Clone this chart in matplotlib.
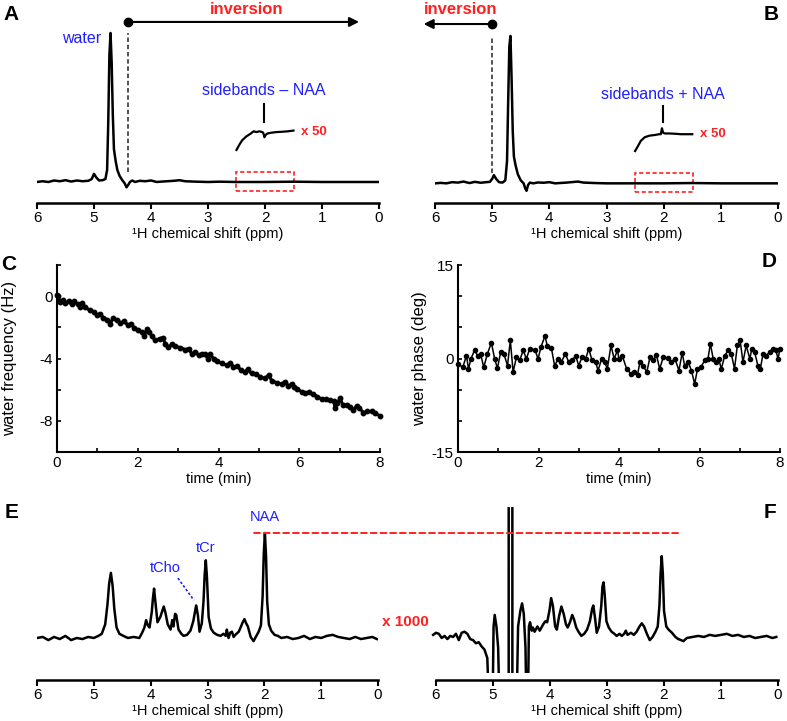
import numpy as np
import matplotlib
matplotlib.use("Agg")
import matplotlib.pyplot as plt
from matplotlib.patches import Rectangle, ConnectionPatch
from matplotlib.transforms import Bbox, TransformedBbox

plt.rcParams['font.family'] = ['Liberation Sans', 'DejaVu Sans']

BLUE = '#1f1fff'
RED = '#ff2020'

# ---------------- data ----------------
A_ppm = [6.00, 5.90, 5.80, 5.70, 5.60, 5.50, 5.40, 5.30, 5.20, 5.10, 5.04, 5.00, 4.96, 4.91, 4.85,
         4.80, 4.77, 4.75, 4.73, 4.71, 4.69, 4.67, 4.65, 4.62, 4.59, 4.55, 4.50, 4.46, 4.43, 4.40,
         4.37, 4.33, 4.28, 4.20, 4.10, 4.00, 3.90, 3.80, 3.60, 3.50, 3.40, 3.20, 3.00, 2.80, 2.50,
         2.00, 1.50, 1.00, 0.50, 0.00]
A_amp = [0.0, 0.005, 0.0, 0.01, 0.005, 0.012, 0.003, 0.010, 0.005, 0.008, 0.02, 0.055, 0.03, 0.01, 0.012,
         0.02, 0.08, 0.40, 0.85, 1.0, 0.80, 0.45, 0.22, 0.14, 0.08, 0.04, 0.01, -0.01, -0.036, -0.02,
         0.0, 0.01, 0.0, 0.008, 0.005, 0.01, 0.0, 0.003, 0.008, 0.012, 0.005, 0.002, 0.0, 0.002, 0.0,
         0.0, 0.002, 0.0, 0.0, 0.0]

B_ppm = [6.00, 5.90, 5.80, 5.70, 5.60, 5.50, 5.40, 5.30, 5.20, 5.10, 5.04, 5.00, 4.97, 4.93, 4.88,
         4.82, 4.77, 4.74, 4.72, 4.70, 4.68, 4.66, 4.64, 4.62, 4.59, 4.55, 4.50, 4.45, 4.42, 4.40,
         4.37, 4.34, 4.28, 4.20, 4.10, 4.00, 3.90, 3.70, 3.50, 3.40, 3.20, 3.00, 2.50, 2.00, 1.50,
         1.00, 0.50, 0.00]
B_amp = [0.0, 0.003, 0.0, 0.008, 0.005, 0.012, 0.002, 0.010, 0.004, 0.008, 0.01, 0.03, 0.055, 0.03, 0.008,
         0.005, 0.02, 0.15, 0.55, 0.92, 0.99, 0.70, 0.35, 0.18, 0.12, 0.06, 0.02, 0.0, -0.035, -0.05,
         -0.01, 0.005, 0.0, 0.006, 0.004, 0.008, 0.0, 0.005, 0.012, 0.005, 0.002, 0.0, 0.0, 0.0, 0.002,
         0.0, 0.0, 0.0]

# x50 insets (2.5-1.5 ppm region)
A_inset_ppm = [2.50, 2.45, 2.40, 2.33, 2.25, 2.20, 2.15, 2.10, 2.05, 2.03, 2.01, 1.99, 1.96, 1.90,
               1.80, 1.70, 1.60, 1.50]
A_inset_amp = [-0.125, -0.09, -0.06, -0.035, -0.015, 0.0, -0.005, 0.0, -0.005, -0.01, -0.04, -0.025,
               -0.015, -0.01, -0.005, -0.003, 0.0, 0.005]
B_inset_ppm = [2.50, 2.45, 2.40, 2.33, 2.25, 2.15, 2.08, 2.05, 2.03, 2.01, 1.98, 1.90, 1.80, 1.70,
               1.60, 1.50]
B_inset_amp = [-0.113, -0.08, -0.045, -0.02, -0.01, -0.005, 0.0, 0.0, 0.04, 0.01, 0.005, 0.005,
               0.003, 0.0, 0.0, 0.0]

C_time = [0.00, 0.02, 0.08, 0.15, 0.21, 0.29, 0.37, 0.43, 0.51, 0.56, 0.62, 0.70, 0.81, 0.91, 0.99,
          1.06, 1.15, 1.25, 1.32, 1.39, 1.48, 1.57, 1.67, 1.75, 1.83, 1.91, 2.00, 2.10, 2.16, 2.23,
          2.29, 2.35, 2.43, 2.54, 2.62, 2.68, 2.76, 2.85, 2.93, 3.05, 3.18, 3.26, 3.34, 3.42, 3.51,
          3.59, 3.67, 3.73, 3.78, 3.88, 3.96, 4.08, 4.21, 4.29, 4.37, 4.47, 4.55, 4.66, 4.72, 4.82,
          4.93, 5.03, 5.15, 5.24, 5.32, 5.44, 5.57, 5.65, 5.73, 5.81, 5.87, 5.95, 6.06, 6.14, 6.25,
          6.35, 6.45, 6.56, 6.66, 6.76, 6.85, 6.89, 6.94, 7.01, 7.08, 7.18, 7.26, 7.34, 7.42, 7.49,
          7.59, 7.67, 7.79, 7.88, 8.00]
C_freq = [0.05, 0.04, -0.38, -0.23, -0.45, -0.32, -0.53, -0.34, -0.53, -0.70, -0.45, -0.70, -0.91, -1.02, -1.23,
          -1.13, -1.38, -1.51, -1.77, -1.38, -1.55, -1.72, -1.60, -1.87, -1.77, -2.02, -2.15, -2.32, -2.57, -2.09,
          -2.30, -2.57, -2.83, -2.72, -2.66, -3.04, -3.26, -3.09, -3.21, -3.30, -3.43, -3.36, -3.72, -3.57, -3.79,
          -3.68, -3.72, -4.00, -3.72, -4.00, -4.17, -4.32, -4.43, -4.28, -4.53, -4.49, -4.74, -4.85, -4.70, -4.96,
          -5.00, -5.17, -5.28, -5.06, -5.43, -5.55, -5.64, -5.49, -5.77, -5.64, -5.81, -5.98, -6.13, -6.23, -6.17,
          -6.28, -6.45, -6.62, -6.62, -6.66, -6.70, -7.19, -6.87, -6.55, -6.98, -6.98, -7.13, -7.30, -7.04, -7.19,
          -7.47, -7.40, -7.40, -7.51, -7.68]

D_time = [0.00, 0.12, 0.21, 0.26, 0.32, 0.41, 0.49, 0.56, 0.64, 0.73, 0.83, 0.91, 0.98, 1.06, 1.14,
          1.23, 1.30, 1.37, 1.45, 1.53, 1.62, 1.70, 1.78, 1.91, 1.99, 2.06, 2.16, 2.22, 2.32, 2.40,
          2.49, 2.57, 2.67, 2.75, 2.84, 2.92, 3.00, 3.08, 3.17, 3.25, 3.33, 3.42, 3.48, 3.57, 3.65,
          3.71, 3.80, 3.88, 3.96, 4.00, 4.08, 4.19, 4.30, 4.38, 4.46, 4.52, 4.60, 4.69, 4.77, 4.85,
          4.93, 5.01, 5.10, 5.22, 5.30, 5.39, 5.49, 5.57, 5.63, 5.72, 5.80, 5.88, 5.95, 6.03, 6.13,
          6.21, 6.27, 6.34, 6.42, 6.48, 6.54, 6.63, 6.71, 6.79, 6.87, 6.94, 7.01, 7.08, 7.16, 7.25,
          7.30, 7.37, 7.45, 7.51, 7.58, 7.66, 7.74, 7.82, 7.90, 7.95, 8.00]
D_phase = [-0.86, -1.40, 0.48, -1.67, -0.05, 1.29, 0.48, 0.75, -1.40, 0.75, 2.53, -0.05, -1.56, 1.02, 0.75,
           -1.13, 2.90, -2.20, 0.21, -0.32, 1.29, -0.05, 1.56, 1.40, -0.05, 1.83, 3.60, 2.00, 1.67, -1.13,
           -0.05, -0.50, 0.75, -0.59, -0.32, 0.48, -1.13, 0.21, -0.05, 1.56, -0.32, -0.59, -1.93, -0.05, -0.59,
           -1.67, 2.10, -0.05, 1.29, -0.05, 0.48, -1.67, -2.47, -2.20, -2.60, -0.59, -1.13, -2.20, 0.21, -0.32,
           0.59, -1.67, 0.21, 0.05, -0.50, -0.05, -1.93, 0.91, -1.13, -0.59, -1.93, -4.09, -1.67, -1.40, -0.32,
           -0.05, 2.37, -0.05, -0.59, -0.05, -1.67, 0.48, 1.29, 0.75, -1.67, 2.10, 2.90, -0.59, 2.10, -0.05,
           1.56, 1.02, -1.13, -1.67, 0.75, 0.48, 1.02, 1.56, 1.29, -0.05, 1.56]

E_ppm = [6.00, 5.90, 5.80, 5.70, 5.60, 5.50, 5.40, 5.30, 5.20, 5.10, 5.00, 4.92, 4.86, 4.80, 4.76,
         4.73, 4.70, 4.67, 4.64, 4.60, 4.55, 4.48, 4.40, 4.30, 4.20, 4.15, 4.11, 4.08, 4.05, 4.02,
         3.98, 3.96, 3.94, 3.92, 3.88, 3.83, 3.80, 3.77, 3.74, 3.70, 3.65, 3.62, 3.60, 3.57, 3.55,
         3.51, 3.46, 3.42, 3.36, 3.30, 3.25, 3.22, 3.20, 3.17, 3.14, 3.10, 3.07, 3.05, 3.03, 3.01,
         2.98, 2.94, 2.89, 2.83, 2.77, 2.72, 2.68, 2.66, 2.63, 2.60, 2.57, 2.54, 2.51, 2.45, 2.41,
         2.38, 2.35, 2.32, 2.29, 2.24, 2.19, 2.14, 2.10, 2.06, 2.03, 2.01, 1.99, 1.97, 1.95, 1.92,
         1.88, 1.82, 1.76, 1.70, 1.60, 1.50, 1.40, 1.30, 1.20, 1.10, 1.00, 0.90, 0.80, 0.70, 0.60,
         0.50, 0.40, 0.30, 0.20, 0.10, 0.02]
E_amp = [0.00, 0.01, -0.02, 0.01, -0.01, 0.02, -0.02, 0.00, -0.01, 0.01, 0.00, 0.02, 0.04, 0.13, 0.32,
         0.52, 0.62, 0.50, 0.28, 0.10, 0.04, 0.02, 0.00, 0.01, 0.00, 0.05, 0.10, 0.17, 0.12, 0.10,
         0.25, 0.38, 0.47, 0.36, 0.15, 0.20, 0.25, 0.30, 0.24, 0.13, 0.08, 0.17, 0.11, 0.23, 0.22,
         0.08, 0.04, 0.02, 0.03, 0.07, 0.16, 0.25, 0.31, 0.22, 0.06, 0.14, 0.35, 0.60, 0.74, 0.58,
         0.20, 0.09, 0.05, 0.03, 0.02, 0.04, 0.02, 0.08, 0.00, 0.05, 0.06, 0.01, 0.03, 0.06, 0.11,
         0.15, 0.18, 0.14, 0.11, 0.01, -0.03, 0.02, 0.06, 0.12, 0.40, 0.80, 1.00, 0.78, 0.35, 0.13,
         0.07, 0.03, 0.02, 0.00, 0.01, -0.01, 0.00, 0.02, -0.01, 0.01, 0.00, 0.02, 0.03, 0.01, 0.00,
         -0.01, 0.01, -0.01, 0.00, 0.01, -0.01]

F_ppm = [6.05, 6.00, 5.95, 5.90, 5.85, 5.80, 5.75, 5.70, 5.65, 5.60, 5.55, 5.50, 5.45, 5.40, 5.35,
         5.30, 5.25, 5.20, 5.15, 5.10, 5.06, 5.04, 5.01, 4.99, 4.97, 4.94, 4.91, 4.88, 4.74, 4.725,
         4.72, 4.665, 4.66, 4.59, 4.56, 4.52, 4.49, 4.46, 4.43, 4.41, 4.39, 4.37, 4.35, 4.32, 4.30,
         4.27, 4.22, 4.18, 4.12, 4.08, 4.05, 4.01, 3.98, 3.95, 3.91, 3.88, 3.84, 3.80, 3.76, 3.72,
         3.69, 3.65, 3.61, 3.58, 3.54, 3.50, 3.45, 3.40, 3.35, 3.30, 3.26, 3.24, 3.21, 3.18, 3.14,
         3.10, 3.08, 3.06, 3.04, 3.01, 2.97, 2.92, 2.87, 2.83, 2.78, 2.74, 2.70, 2.67, 2.64, 2.58,
         2.53, 2.48, 2.43, 2.39, 2.35, 2.30, 2.25, 2.20, 2.15, 2.11, 2.08, 2.06, 2.04, 2.02, 2.00,
         1.96, 1.92, 1.86, 1.80, 1.75, 1.70, 1.66, 1.60, 1.50, 1.40, 1.30, 1.20, 1.10, 1.00, 0.90,
         0.80, 0.70, 0.60, 0.50, 0.40, 0.30, 0.20, 0.10, 0.03]
F_amp = [0.02, 0.04, 0.03, -0.01, 0.01, -0.02, 0.01, 0.00, 0.03, -0.03, 0.04, 0.05, 0.03, -0.02, -0.03,
         -0.06, -0.05, -0.09, -0.12, -0.20, -0.80, -0.80, -0.80, 0.10, 0.21, 0.10, -0.10, -0.80, -0.80, -0.80,
         20.0, 20.0, -0.80, -0.80, 0.10, 0.25, 0.32, 0.22, -0.10, -0.80, -0.80, 0.10, 0.14, 0.06, 0.09,
         0.05, 0.10, 0.06, 0.12, 0.15, 0.14, 0.25, 0.37, 0.30, 0.10, 0.07, 0.20, 0.29, 0.22, 0.12,
         0.09, 0.14, 0.21, 0.17, 0.09, 0.05, 0.01, 0.03, 0.07, 0.15, 0.27, 0.30, 0.18, 0.04, 0.10,
         0.30, 0.48, 0.52, 0.40, 0.15, 0.09, 0.05, 0.03, 0.01, 0.03, 0.01, 0.03, 0.06, 0.02, 0.04,
         0.02, 0.05, 0.10, 0.13, 0.10, 0.03, -0.03, 0.00, 0.05, 0.10, 0.30, 0.60, 0.77, 0.60, 0.25,
         0.10, 0.07, 0.04, 0.00, -0.02, -0.03, -0.04, -0.01, 0.00, 0.01, 0.00, 0.02, 0.01, 0.02, 0.03,
         0.01, 0.02, 0.00, 0.01, -0.01, 0.00, 0.01, -0.01, 0.00]

ppm_ticks = [6, 5, 4, 3, 2, 1, 0]
time_ticks = [0, 1, 2, 3, 4, 5, 6, 7, 8]
C_yticks = [-10, -8, -6, -4, -2, 0, 2]
C_ylabels = ['', '-8', '', '-4', '', '0', '']
D_yticks = [-15, -10, -5, 0, 5, 10, 15]
D_ylabels = ['-15', '', '', '0', '', '', '15']

# ---------------- figure ----------------
W, H = 787, 721
fig = plt.figure(figsize=(W / 100, H / 100), dpi=100)


def px_axes(x0, x1, ytop, ybot):
    return fig.add_axes([x0 / W, 1 - ybot / H, (x1 - x0) / W, (ybot - ytop) / H])


def spectrum_axes(ax):
    ax.set_xlim(6, 0)
    for s in ['left', 'right', 'top']:
        ax.spines[s].set_visible(False)
    ax.spines['bottom'].set_linewidth(1.8)
    ax.set_yticks([])
    ax.set_xticks(ppm_ticks)
    ax.tick_params(axis='x', direction='out', length=4, width=1.5, labelsize=11, pad=2)
    ax.set_xlabel('¹H chemical shift (ppm)', fontsize=10.5, labelpad=1)


def time_axes(ax):
    ax.set_xlim(0, 8)
    for s in ['right', 'top']:
        ax.spines[s].set_visible(False)
    for s in ['left', 'bottom']:
        ax.spines[s].set_linewidth(1.5)
    ax.set_xticks(time_ticks)
    ax.set_xticklabels([str(t) if t % 2 == 0 else '' for t in time_ticks])
    ax.tick_params(direction='in', length=3, width=1.2, labelsize=11, pad=3)
    ax.set_xlabel('time (min)', fontsize=10.5, labelpad=1)


# ---- A ----
axA = px_axes(37, 379, 20, 203)
spectrum_axes(axA)
axA.set_ylim(-0.141, 1.087)
axA.plot(A_ppm, A_amp, color='black', lw=1.8)
axA.plot(A_inset_ppm, np.array(A_inset_amp) + 0.34, color='black', lw=1.6)
axA.add_patch(Rectangle((2.51, -0.06), -1.02, 0.127, fill=False, ec=RED, lw=1.2, ls=(0, (2.5, 1.5))))
axA.plot([4.40, 4.40], [0.07, 1.0], color='#444444', lw=1.3, ls=(0, (2.5, 1.5)))
axA.plot([2.02, 2.02], [0.403, 0.523], color='black', lw=1.5)
axA.annotate('', xy=(0.35, 1.074), xytext=(4.40, 1.074), annotation_clip=False,
             arrowprops=dict(arrowstyle='-|>', color='black', lw=1.5, mutation_scale=14, shrinkA=0, shrinkB=0))
axA.plot([4.40], [1.074], 'o', color='black', ms=6, clip_on=False)
axA.text(2.32, 1.155, 'inversion', color=RED, fontsize=12, fontweight='bold', ha='center', va='center', clip_on=False)
axA.text(5.21, 0.96, 'water', color=BLUE, fontsize=11.5, ha='center', va='center')
axA.text(2.02, 0.615, 'sidebands – NAA', color=BLUE, fontsize=11.5, ha='center', va='center')
axA.text(1.36, 0.335, 'x 50', color=RED, fontsize=9.5, fontweight='bold', ha='left', va='center')

# ---- B ----
axB = px_axes(435, 778, 20, 203)
spectrum_axes(axB)
axB.set_ylim(-0.132, 1.097)
axB.plot(B_ppm, B_amp, color='black', lw=1.8)
axB.plot(B_inset_ppm, np.array(B_inset_amp) + 0.33, color='black', lw=1.6)
axB.add_patch(Rectangle((2.51, -0.06), -1.02, 0.127, fill=False, ec=RED, lw=1.2, ls=(0, (2.5, 1.5))))
axB.plot([5.01, 5.01], [0.07, 0.98], color='#444444', lw=1.3, ls=(0, (2.5, 1.5)))
axB.plot([2.02, 2.02], [0.41, 0.52], color='black', lw=1.5)
axB.annotate('', xy=(6.2, 1.07), xytext=(5.01, 1.07), annotation_clip=False,
             arrowprops=dict(arrowstyle='-|>', color='black', lw=1.5, mutation_scale=14, shrinkA=0, shrinkB=0))
axB.plot([5.01], [1.07], 'o', color='black', ms=6, clip_on=False)
axB.text(5.56, 1.165, 'inversion', color=RED, fontsize=12, fontweight='bold', ha='center', va='center', clip_on=False)
axB.text(2.02, 0.60, 'sidebands + NAA', color=BLUE, fontsize=11.5, ha='center', va='center')
axB.text(1.36, 0.33, 'x 50', color=RED, fontsize=9.5, fontweight='bold', ha='left', va='center')

# ---- C ----
axC = px_axes(57, 380, 265, 452)
time_axes(axC)
axC.set_ylim(-10, 2)
axC.set_yticks(C_yticks)
axC.set_yticklabels(C_ylabels)
axC.plot(C_time, C_freq, color='black', lw=2.2, marker='o', ms=3.2, clip_on=False)
axC.set_ylabel('water frequency (Hz)', fontsize=12)
axC.yaxis.set_label_coords(-0.125, 0.5)

# ---- D ----
axD = px_axes(458, 780, 265, 452)
time_axes(axD)
axD.set_ylim(-15, 15)
axD.set_yticks(D_yticks)
axD.set_yticklabels(D_ylabels)
axD.plot(D_time, D_phase, color='black', lw=1.1, marker='o', ms=3.0, clip_on=False)
axD.set_ylabel('water phase (deg)', fontsize=12)
axD.yaxis.set_label_coords(-0.095, 0.5)

# ---- E ----
axE = px_axes(37, 378, 500, 680)
spectrum_axes(axE)
axE.set_ylim(-0.40, 1.314)
axE.plot(E_ppm, E_amp, color='black', lw=1.8)
axE.text(3.75, 0.67, 'tCho', color=BLUE, fontsize=10.5, ha='center', va='center')
axE.plot([3.52, 3.24], [0.57, 0.36], color=BLUE, lw=1.2, ls=(0, (1.5, 1.2)))
axE.text(3.04, 0.86, 'tCr', color=BLUE, fontsize=10.5, ha='center', va='center')
axE.text(2.0, 1.15, 'NAA', color=BLUE, fontsize=10.5, ha='center', va='center')

# ---- F ----
axF = px_axes(436, 778, 500, 680)
spectrum_axes(axF)
axF.set_ylim(-0.41, 1.305)
lineF, = axF.plot(F_ppm, F_amp, color='black', lw=1.8)
lineF.set_clip_box(TransformedBbox(Bbox([[6.2, -0.343], [-0.2, 1.238]]), axF.transData))
axF.text(6.54, 0.14, 'x 1000', color=RED, fontsize=11, fontweight='bold', ha='center', va='center', clip_on=False)

fig.add_artist(ConnectionPatch(xyA=(2.18, 1.0), coordsA=axE.transData,
                               xyB=(1.75, 0.99), coordsB=axF.transData,
                               color=RED, lw=1.4, ls=(0, (3, 2))))

# ---- panel letters ----
for lab, x, y in [('A', 11, 14), ('B', 771, 14), ('C', 9, 264), ('D', 769, 261), ('E', 12, 513), ('F', 770, 513)]:
    fig.text(x / W, 1 - y / H, lab, fontsize=15, fontweight='bold', ha='center', va='center')

fig.savefig('out.png', dpi=100)
